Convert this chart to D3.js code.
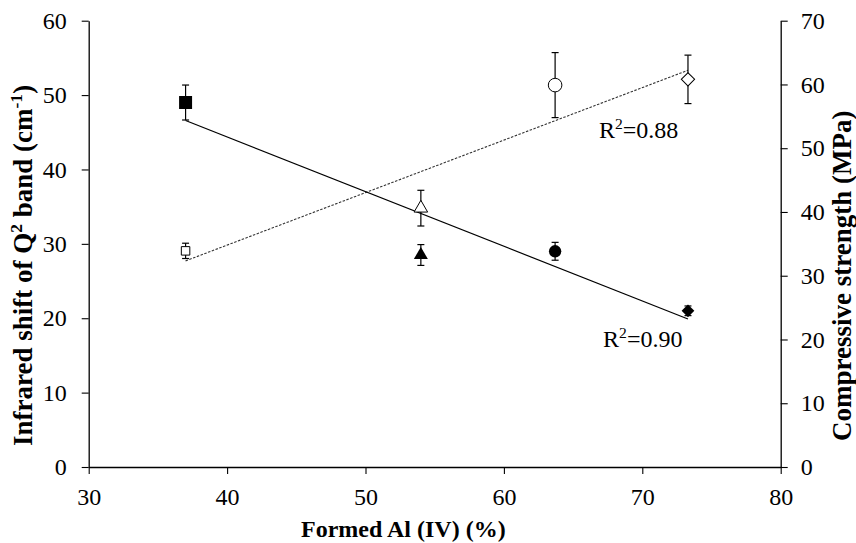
<!DOCTYPE html>
<html><head><meta charset="utf-8">
<script src="https://cdn.jsdelivr.net/npm/d3@7"></script>
<style>
body{margin:0;background:#fff}
text{font-family:"Liberation Serif","Times New Roman",serif;fill:#000}
</style>
</head><body>
<svg id="chart" width="856" height="543"></svg>
<script>
// ---- data ----
const formedAlIV   = [37.0, 54.0, 63.7, 73.3];      // x, %
const irShift      = [49.0, 28.5, 29.0, 21.0];      // left axis, cm-1
const irShiftErr   = [2.35, 1.4, 1.2, 0.65];
const strength     = [33.9, 40.6, 59.9, 60.8];      // right axis, MPa
const strengthErr  = [1.2, 2.8, 5.1, 3.8];
const markerShapes = ["square", "triangle", "circle", "diamond"];
const xTicks       = [30, 40, 50, 60, 70, 80];
const yLeftTicks   = [0, 10, 20, 30, 40, 50, 60];
const yRightTicks  = [0, 10, 20, 30, 40, 50, 60, 70];
const r2Labels     = ["0.90", "0.88"];               // [shift fit, strength fit]
const r2AnchorX    = [72.9, 72.6];                   // label right end (x units)
const r2AnchorY    = [16.1, 44.2];                   // label baseline (left units)

// ---- layout ----
const W = 856, H = 543;
const m = {left: 88.7, right: 75.3, top: 20.7, bottom: 76};
const svg = d3.select("#chart");

const x  = d3.scaleLinear().domain([30, 80]).range([m.left, W - m.right]);
const yL = d3.scaleLinear().domain([0, 60]).range([H - m.bottom, m.top]);
const yR = d3.scaleLinear().domain([0, 70]).range([H - m.bottom, m.top]);

const FS = 24;      // tick labels / annotations
const FT = 27;      // vertical axis titles

function styleAxis(g){
  g.select(".domain").attr("stroke", "#000").attr("stroke-width", 1.3);
  g.selectAll(".tick line").attr("stroke", "#000").attr("stroke-width", 1.1);
  g.selectAll(".tick text").attr("font-size", FS).attr("font-family", '"Liberation Serif","Times New Roman",serif');
}
svg.append("g").attr("transform", `translate(0,${H - m.bottom})`)
  .call(d3.axisBottom(x).tickValues(xTicks).tickSize(7).tickSizeOuter(0).tickPadding(14).tickFormat(d3.format("d")))
  .call(styleAxis);
svg.append("g").attr("transform", `translate(${m.left},0)`)
  .call(d3.axisLeft(yL).tickValues(yLeftTicks).tickSize(7).tickSizeOuter(0).tickPadding(15).tickFormat(d3.format("d")))
  .call(styleAxis);
svg.append("g").attr("transform", `translate(${W - m.right},0)`)
  .call(d3.axisRight(yR).tickValues(yRightTicks).tickSize(7).tickSizeOuter(0).tickPadding(13).tickFormat(d3.format("d")))
  .call(styleAxis);

// ---- regression lines (least squares from the data) ----
function fit(xs, ys){
  const mx = d3.mean(xs), my = d3.mean(ys);
  let sxy = 0, sxx = 0;
  xs.forEach((v,i) => { sxy += (v - mx) * (ys[i] - my); sxx += (v - mx) ** 2; });
  const b = sxy / sxx, a = my - b * mx;
  return v => a + b * v;
}
const fL = fit(formedAlIV, irShift);
const fR = fit(formedAlIV, strength);
const xEnds = d3.extent(formedAlIV);
const line = d3.line();
svg.append("path")
  .attr("d", line(xEnds.map(v => [x(v), yR(fR(v))])))
  .attr("fill", "none").attr("stroke", "#333").attr("stroke-width", 1.1)
  .attr("stroke-dasharray", "2.5,1.5");
svg.append("path")
  .attr("d", line(xEnds.map(v => [x(v), yL(fL(v))])))
  .attr("fill", "none").attr("stroke", "#000").attr("stroke-width", 1.2);

// ---- error bars ----
function errorBars(vals, errs, ys){
  const g = svg.append("g").attr("stroke", "#000").attr("stroke-width", 1.2);
  formedAlIV.forEach((xv, i) => {
    const cx = x(xv), y1 = ys(vals[i] + errs[i]), y2 = ys(vals[i] - errs[i]);
    g.append("line").attr("x1", cx).attr("x2", cx).attr("y1", y1).attr("y2", y2);
    g.append("line").attr("x1", cx - 3.5).attr("x2", cx + 3.5).attr("y1", y1).attr("y2", y1);
    g.append("line").attr("x1", cx - 3.5).attr("x2", cx + 3.5).attr("y1", y2).attr("y2", y2);
  });
}
errorBars(irShift, irShiftErr, yL);
errorBars(strength, strengthErr, yR);

// ---- markers ----
const filledSize = {square: 169, triangle: 85, circle: 120, diamond: 81};
const openSize   = {square: 72,  triangle: 80, circle: 145, diamond: 88};
const symType = {square: d3.symbolSquare, triangle: d3.symbolTriangle, circle: d3.symbolCircle, diamond: d3.symbolSquare};
function markers(vals, ys, filled){
  formedAlIV.forEach((xv, i) => {
    const shp = markerShapes[i];
    const size = (filled ? filledSize : openSize)[shp];
    const rot = shp === "diamond" ? 45 : 0;
    svg.append("path")
      .attr("d", d3.symbol().type(symType[shp]).size(size)())
      .attr("transform", `translate(${x(xv)},${ys(vals[i])}) rotate(${rot})`)
      .attr("fill", filled ? "#000" : "#fff")
      .attr("stroke", "#000").attr("stroke-width", filled ? 0 : 1);
  });
}
markers(strength, yR, false);
markers(irShift, yL, true);

// ---- R² annotations ----
r2Labels.forEach((lab, i) => {
  const t = svg.append("text")
    .attr("x", x(r2AnchorX[i])).attr("y", yL(r2AnchorY[i]))
    .attr("text-anchor", "end")
    .attr("font-size", FS);
  t.append("tspan").text("R");
  t.append("tspan").attr("dy", -9).attr("font-size", FS * 0.65).text("2");
  t.append("tspan").attr("dy", 9).text("=" + lab);
});

// ---- axis titles ----
svg.append("text")
  .attr("x", 301).attr("y", 537)
  .attr("font-weight", "bold").attr("font-size", FS)
  .text("Formed Al (IV) (%)");

const tl = svg.append("text")
  .attr("transform", `translate(32,446) rotate(-90)`)
  .attr("font-weight", "bold").attr("font-size", FT);
tl.append("tspan").text("Infrared shift of Q");
tl.append("tspan").attr("dy", -10).attr("font-size", FT * 0.65).text("2");
tl.append("tspan").attr("dy", 10).text(" band (cm");
tl.append("tspan").attr("dy", -10).attr("font-size", FT * 0.65).text("-1");
tl.append("tspan").attr("dy", 10).text(")");

svg.append("text")
  .attr("transform", `translate(851,441) rotate(-90)`)
  .attr("font-weight", "bold").attr("font-size", FT)
  .text("Compressive strength (MPa)");
</script>
</body></html>
